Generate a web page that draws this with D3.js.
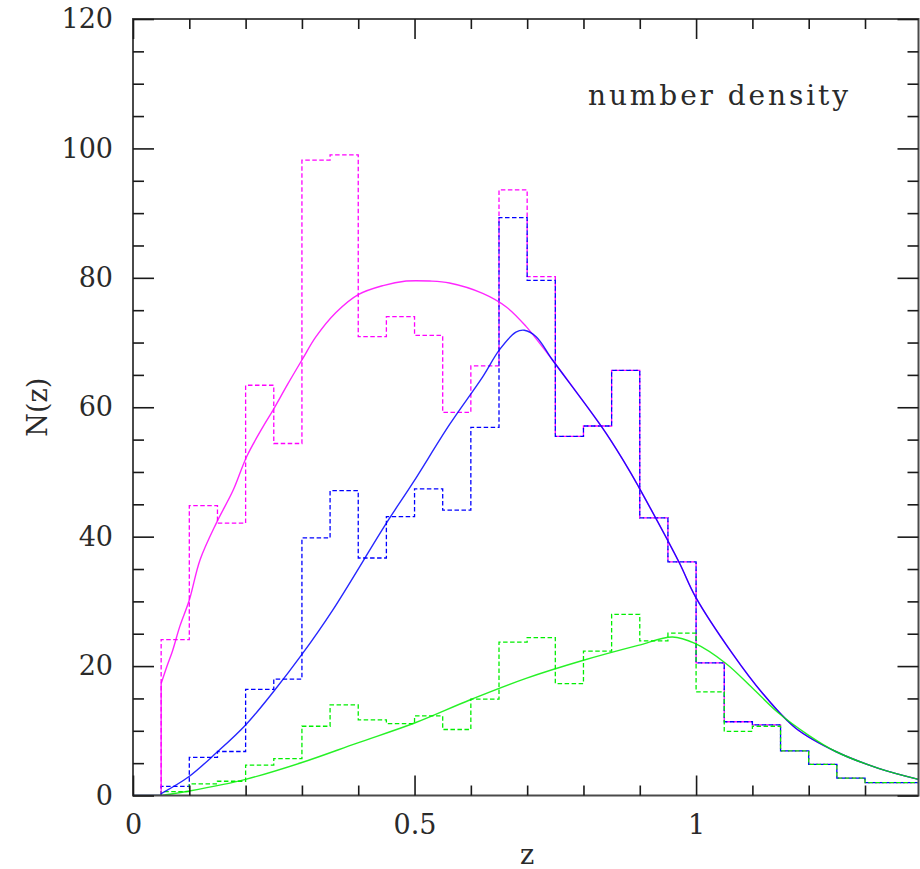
<!DOCTYPE html>
<html>
<head>
<meta charset="utf-8">
<script src="https://cdn.jsdelivr.net/npm/d3@7"></script>
<style>
  html, body { margin: 0; padding: 0; background: #fff; }
  svg { display: block; }
  .lbl { font-family: "DejaVu Serif", serif; fill: #2a2a2a; }
</style>
</head>
<body>
<svg id="chart" width="920" height="869"></svg>
<script>
// Redshift bins (width 0.05) starting at z = 0.05
const binStart = 0.05;
const binWidth = 0.05;

// Histogram counts per bin (dashed)
const histAll   = [24.1, 44.8, 42.1, 63.4, 54.4, 98.2, 99.0, 70.9, 74.0, 71.1, 59.2, 66.4, 93.6, 80.2, 55.5, 57.1, 65.7, 42.9, 36.1, 20.5, 11.4, 10.9, 6.9, 4.8, 2.7, 2.0, 2.0];
const histBlue  = [1.4, 5.9, 6.8, 16.4, 18.0, 39.8, 47.1, 36.7, 43.1, 47.4, 44.1, 56.9, 89.3, 79.6, 55.5, 57.1, 65.7, 42.9, 36.1, 20.5, 11.4, 10.9, 6.9, 4.8, 2.7, 2.0, 2.0];
const histGreen = [0.6, 1.8, 2.2, 4.7, 5.7, 10.7, 14.0, 11.7, 11.1, 12.3, 10.2, 14.9, 23.7, 24.4, 17.3, 22.3, 28.0, 23.9, 25.1, 16.0, 9.9, 10.7, 6.9, 4.8, 2.7, 2.0, 2.0];

// Model curves (solid): redshift samples and N(z) values
const curveAllZ = [0.05, 0.06, 0.07, 0.083, 0.1, 0.119, 0.148, 0.178, 0.202, 0.231, 0.249, 0.275, 0.3, 0.325, 0.36, 0.4, 0.444, 0.485, 0.527, 0.562, 0.621, 0.663, 0.698, 0.722, 0.745, 0.798, 0.84, 0.881, 0.898, 0.97, 0.999, 1.064, 1.118, 1.177, 1.248, 1.324, 1.395];
const curveAllN = [17.3, 19.9, 22.3, 26.1, 30.2, 36.4, 42.1, 47.2, 52.4, 57.0, 59.6, 63.6, 67.3, 70.9, 74.6, 77.4, 78.8, 79.5, 79.5, 79.2, 77.6, 75.5, 72.5, 69.9, 67.3, 61.1, 56.0, 50.3, 47.7, 36.0, 30.7, 22.0, 15.8, 10.4, 6.8, 4.2, 2.5];

const curveBlueZ = [0.05, 0.099, 0.148, 0.2, 0.249, 0.3, 0.355, 0.45, 0.497, 0.562, 0.621, 0.651, 0.68, 0.695, 0.716, 0.745, 0.798, 0.84, 0.881, 0.898, 0.97, 0.999, 1.064, 1.118, 1.177, 1.248, 1.324, 1.395];
const curveBlueN = [0.3, 2.9, 6.6, 10.9, 16.0, 21.8, 28.7, 42.1, 48.3, 57.3, 64.7, 68.9, 71.6, 71.9, 70.9, 67.3, 61.1, 56.0, 50.3, 47.7, 36.0, 30.7, 22.0, 15.8, 10.4, 6.8, 4.2, 2.5];

const curveGreenZ = [0.05, 0.1, 0.2, 0.3, 0.398, 0.5, 0.599, 0.698, 0.8, 0.897, 0.958, 0.998, 1.053, 1.1, 1.147, 1.2, 1.248, 1.324, 1.395];
const curveGreenN = [0, 0.7, 2.5, 5.1, 8.1, 11.2, 14.8, 18.1, 20.9, 23.2, 24.5, 23.5, 20.4, 16.6, 12.7, 9.3, 6.8, 4.2, 2.5];

// Axis ticks
const xMajorTicks = [0, 0.5, 1];
const xMinorTicks = [0.1, 0.2, 0.3, 0.4, 0.6, 0.7, 0.8, 0.9, 1.1, 1.2, 1.3];
const yMajorTicks = [0, 20, 40, 60, 80, 100, 120];
const yMinorTicks = d3.range(5, 120, 5).filter(v => v % 20 !== 0);

const xMax = 1.395;
const yMax = 120;

const svg = d3.select("#chart");
const box = { left: 133, right: 918.5, top: 19, bottom: 795.5 };

const x = d3.scaleLinear().domain([0, xMax]).range([box.left, box.right]);
const y = d3.scaleLinear().domain([0, yMax]).range([box.bottom, box.top]);

svg.append("defs").append("clipPath").attr("id", "plotClip")
  .append("rect").attr("x", box.left).attr("y", box.top - 2)
  .attr("width", box.right - box.left).attr("height", box.bottom - box.top + 2);

const plot = svg.append("g").attr("clip-path", "url(#plotClip)");

// Step outline for a histogram
function stepPoints(counts) {
  const pts = [[binStart, 0]];
  counts.forEach((c, i) => {
    const z0 = binStart + i * binWidth;
    pts.push([z0, c], [z0 + binWidth, c]);
  });
  return pts;
}
const straight = d3.line().x(d => x(d[0])).y(d => y(d[1]));
const smoothLine = d3.line().x(d => x(d[0])).y(d => y(d[1])).curve(d3.curveCatmullRom.alpha(0.5));

// Curve is zero along the axis up to its first sample, then rises to it
function curvePath(zs, ns) {
  const pts = zs.map((z, i) => [z, ns[i]]);
  return straight([[0, 0], [zs[0], 0], [zs[0], ns[0]]]) + smoothLine(pts);
}

const dash = "4.5,2.5";
const series = [
  { hist: histAll,   cz: curveAllZ,   cn: curveAllN,   color: "#ff00ff" },
  { hist: histBlue,  cz: curveBlueZ,  cn: curveBlueN,  color: "#0000ff" },
  { hist: histGreen, cz: curveGreenZ, cn: curveGreenN, color: "#00ee00" }
];

series.forEach(s => {
  plot.append("path")
    .attr("d", straight(stepPoints(s.hist)))
    .attr("fill", "none").attr("stroke", s.color)
    .attr("stroke-width", 1.3).attr("stroke-dasharray", dash);
});
series.forEach(s => {
  plot.append("path")
    .attr("d", curvePath(s.cz, s.cn))
    .attr("fill", "none").attr("stroke", s.color)
    .attr("stroke-width", 1.4).attr("opacity", 0.85);
});

// Frame
svg.append("rect")
  .attr("x", box.left).attr("y", box.top)
  .attr("width", box.right - box.left).attr("height", box.bottom - box.top)
  .attr("fill", "none").attr("stroke", "#4a4a4a").attr("stroke-width", 2);

function styleAxis(g) {
  g.select(".domain").remove();
  g.selectAll(".tick line").attr("stroke", "#1a1a1a").attr("stroke-width", 1.6);
  g.selectAll(".tick text").attr("class", "lbl").style("font-size", "27px")
    .attr("font-family", null).attr("fill", null);
}

// Bottom axis
svg.append("g").attr("transform", `translate(0,${box.bottom})`)
  .call(d3.axisBottom(x).tickValues(xMajorTicks).tickSize(-20).tickPadding(19)
    .tickFormat(d => d === 0 ? "0" : d3.format("")(d)))
  .call(styleAxis);
svg.append("g").attr("transform", `translate(0,${box.bottom})`)
  .call(d3.axisBottom(x).tickValues(xMinorTicks).tickSize(-10).tickFormat(""))
  .call(styleAxis);
// Top axis
svg.append("g").attr("transform", `translate(0,${box.top})`)
  .call(d3.axisTop(x).tickValues(xMajorTicks).tickSize(-20).tickFormat(""))
  .call(styleAxis);
svg.append("g").attr("transform", `translate(0,${box.top})`)
  .call(d3.axisTop(x).tickValues(xMinorTicks).tickSize(-10).tickFormat(""))
  .call(styleAxis);
// Left axis
svg.append("g").attr("transform", `translate(${box.left},0)`)
  .call(d3.axisLeft(y).tickValues(yMajorTicks).tickSize(-21).tickPadding(20))
  .call(styleAxis);
svg.append("g").attr("transform", `translate(${box.left},0)`)
  .call(d3.axisLeft(y).tickValues(yMinorTicks).tickSize(-11).tickFormat(""))
  .call(styleAxis);
// Right axis
svg.append("g").attr("transform", `translate(${box.right},0)`)
  .call(d3.axisRight(y).tickValues(yMajorTicks).tickSize(-21).tickFormat(""))
  .call(styleAxis);
svg.append("g").attr("transform", `translate(${box.right},0)`)
  .call(d3.axisRight(y).tickValues(yMinorTicks).tickSize(-11).tickFormat(""))
  .call(styleAxis);

// Axis titles
svg.append("text").attr("class", "lbl")
  .attr("x", 527).attr("y", 864).attr("text-anchor", "middle")
  .style("font-size", "27px").text("z");
svg.append("text").attr("class", "lbl")
  .attr("transform", `translate(47,${y(60)}) rotate(-90)`)
  .attr("text-anchor", "middle")
  .style("font-size", "27px").text("N(z)");

// Panel label
svg.append("text").attr("class", "lbl")
  .attr("x", 588).attr("y", 105)
  .attr("textLength", 260).attr("lengthAdjust", "spacing")
  .style("font-size", "28px").text("number density");
</script>
</body>
</html>
